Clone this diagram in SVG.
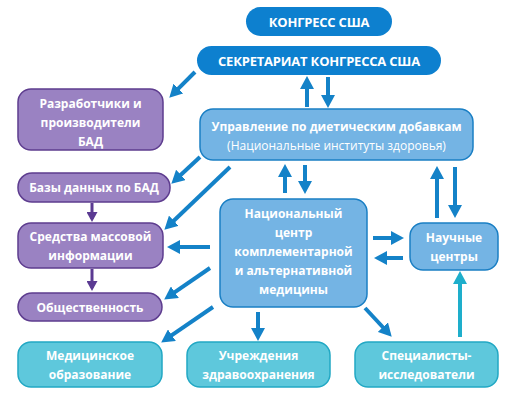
<svg xmlns="http://www.w3.org/2000/svg" width="515" height="406" viewBox="0 0 515 406">
<style>
text{font-family:"Open Sans","Noto Sans","DejaVu Sans",sans-serif;font-size:12px;font-weight:bold;fill:#fff;text-anchor:middle;dominant-baseline:central}
.reg{font-weight:normal}
.big{font-size:13px;letter-spacing:-0.2px}
.top{fill:#0d80cf}
.pur{fill:#9a82c2;stroke:#5e3d8f;stroke-width:1.5}
.lb{fill:#74b4e4;stroke:#1a7fc4;stroke-width:1.5}
.tl{fill:#5ec8dc;stroke:#22a8c4;stroke-width:1.5}
.ab{stroke:#1482c8;stroke-width:4;fill:none;marker-end:url(#hb)}
.ap{stroke:#5b3a92;stroke-width:3;fill:none;marker-end:url(#hp)}
.at{stroke:#1eaecb;stroke-width:4;fill:none;marker-end:url(#ht)}
</style>
<defs>
<marker id="hb" markerUnits="userSpaceOnUse" markerWidth="13" markerHeight="14" refX="8" refY="7" orient="auto"><path d="M0,0 L13,7 L0,14 z" fill="#1482c8"/></marker>
<marker id="hp" markerUnits="userSpaceOnUse" markerWidth="11" markerHeight="11" refX="7" refY="5.5" orient="auto"><path d="M0,0 L10,5.5 L0,11 z" fill="#5b3a92"/></marker>
<marker id="ht" markerUnits="userSpaceOnUse" markerWidth="13" markerHeight="14" refX="8" refY="7" orient="auto"><path d="M0,0 L13,7 L0,14 z" fill="#1eaecb"/></marker>
</defs>
<rect width="515" height="406" fill="#fff"/>
<g id="connectors">
<path class="ab" d="M195,72 L172.8,94.2"/>
<path class="ab" d="M307,107 L307,81"/>
<path class="ab" d="M328,77 L328,103"/>
<path class="ab" d="M200,157 L175,180.3"/>
<path class="ab" d="M230,167 L168,226.2"/>
<path class="ap" d="M92,203 L92,219"/>
<path class="ab" d="M210,247 L172,247"/>
<path class="ab" d="M210,268 L168.3,296.7"/>
<path class="ap" d="M92,269 L92,288"/>
<path class="ab" d="M285,193 L285,169"/>
<path class="ab" d="M305,165 L305,189"/>
<path class="ab" d="M373,238 L399,238"/>
<path class="ab" d="M403,258 L379,258"/>
<path class="ab" d="M437,218 L437,171"/>
<path class="ab" d="M455,167 L455,213"/>
<path class="ab" d="M213,307 L165.3,339.7"/>
<path class="ab" d="M258,312 L258,336"/>
<path class="ab" d="M365,308 L388.3,333"/>
<path class="at" d="M460,337 L460,276"/>
</g>
<g id="congress"><rect class="top" x="246" y="7" width="146" height="29" rx="14.5"/><text class="big" x="319" y="21.5">КОНГРЕСС США</text></g>
<g id="secretariat"><rect class="top" x="197" y="46" width="244" height="29" rx="14.5"/><text class="big" x="319" y="60.5">СЕКРЕТАРИАТ КОНГРЕССА США</text></g>
<g id="developers"><rect class="pur" x="18" y="89" width="145" height="61" rx="13"/><text x="90.5" y="103">Разработчики и</text><text x="90.5" y="122">производители</text><text x="90.5" y="141">БАД</text></g>
<g id="dietary"><rect class="lb" x="200" y="109" width="273" height="51" rx="13"/><text x="336.5" y="126">Управление по диетическим добавкам</text><text class="reg" x="336.5" y="145">(Национальные институты здоровья)</text></g>
<g id="databases"><rect class="pur" x="18" y="173" width="152" height="29" rx="14"/><text x="94" y="187.5">Базы данных по БАД</text></g>
<g id="media"><rect class="pur" x="18" y="223" width="145" height="45" rx="13"/><text x="90.5" y="236">Средства массовой</text><text x="90.5" y="255">информации</text></g>
<g id="public"><rect class="pur" x="18" y="293" width="144" height="28" rx="14"/><text x="90" y="307">Общественность</text></g>
<g id="nccam"><rect class="lb" x="220" y="199" width="147" height="108" rx="13"/><text x="293.5" y="213">Национальный</text><text x="293.5" y="232">центр</text><text x="293.5" y="251">комплементарной</text><text x="293.5" y="270">и альтернативной</text><text x="293.5" y="289">медицины</text></g>
<g id="science"><rect class="lb" x="410" y="223" width="88" height="47" rx="13"/><text x="454" y="237">Научные</text><text x="454" y="256">центры</text></g>
<g id="education"><rect class="tl" x="18" y="342" width="144" height="45" rx="13"/><text x="90" y="355">Медицинское</text><text x="90" y="374">образование</text></g>
<g id="healthcare"><rect class="tl" x="187" y="342" width="143" height="45" rx="13"/><text x="258.5" y="355">Учреждения</text><text x="258.5" y="374">здравоохранения</text></g>
<g id="researchers"><rect class="tl" x="355" y="342" width="143" height="45" rx="13"/><text x="426.5" y="355">Специалисты-</text><text x="426.5" y="374">исследователи</text></g>
</svg>
